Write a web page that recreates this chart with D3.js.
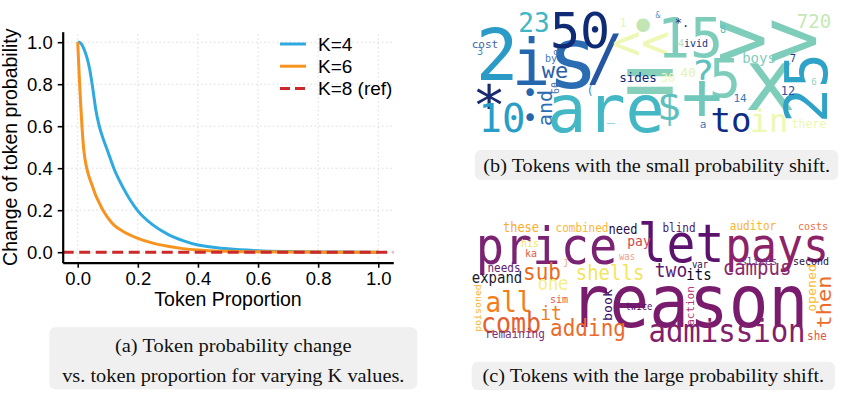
<!DOCTYPE html>
<html>
<head>
<meta charset="utf-8">
<script src="https://cdn.jsdelivr.net/npm/d3@7"></script>
<style>
  body { margin: 0; background: #fff; }
</style>
</head>
<body>
<svg width="847" height="399"></svg>
<script>
// ---- line chart data ----
var tokenProportion = [0, 0.005, 0.01, 0.015, 0.02, 0.03, 0.04, 0.05, 0.06, 0.07, 0.08, 0.1, 0.12, 0.15, 0.2, 0.25, 0.3, 0.35, 0.4, 0.45, 0.5, 0.6, 0.7, 0.8, 0.9, 1.0];
var probK4 = [1.0, 1.0, 0.995, 0.985, 0.97, 0.93, 0.87, 0.78, 0.68, 0.61, 0.56, 0.48, 0.40, 0.31, 0.197, 0.13, 0.085, 0.055, 0.034, 0.024, 0.016, 0.007, 0.003, 0.001, 0.0005, 0];
var probK6 = [1.0, 0.84, 0.70, 0.58, 0.49, 0.40, 0.35, 0.31, 0.27, 0.24, 0.21, 0.165, 0.13, 0.10, 0.066, 0.043, 0.028, 0.017, 0.010, 0.006, 0.004, 0.002, 0.001, 0.0005, 0, 0];
var refValue = 0;
var seriesNames = ["K=4", "K=6", "K=8 (ref)"];
var xTicks = [0, 0.2, 0.4, 0.6, 0.8, 1.0];
var yTicks = [0, 0.2, 0.4, 0.6, 0.8, 1.0];

// ---- word cloud (b): tokens with the small probability shift ----
var wordsSmall = ["2", "i", "s", "/", "50", "23", "*", "10", "•", "•", "•", "cost", "3", "by", "d", "we", "and", "60", "(", "are", "_", "$", "=", "<<", "1", "15", ">>", "720", "8", "*.", "&", "4", "ivid", "boys", "7", "?", "5", "x", "25", "6", "12", "14", "+", "to", "in", "there", "a", "sides", "30", "40"];
var weightSmall = [71, 64, 86, 62, 50, 26, 56, 39, 26, 26, 46, 11, 10, 10, 9, 22, 20, 10, 12, 65, 14, 40, 88, 48, 12, 55, 86, 19, 10, 12, 8, 10, 10, 14, 10, 38, 53, 85, 58, 9, 12, 11, 68, 34, 32, 11.5, 11, 12.5, 12, 13];

// ---- word cloud (c): tokens with the large probability shift ----
var wordsLarge = ["price", "let", "pays", "reason", "these", "combined", "need", "blind", "auditor", "costs", "his", "ka", "pay", "was", "sub", "j", "needs", "shells", "two", "var", "its", "campus", "slices", "second", "expand", "one", "all", "sim", "it", "book", "poisoned", "twice", "action", "opened", "then", "comb", "adding", "remaining", "admission", "she"];
var weightLarge = [47, 48, 43, 66, 12, 11, 12, 11, 11, 10, 10, 10, 13, 9, 21, 10, 11, 19, 18, 9, 14, 19, 10, 10, 14, 17, 26, 10, 18, 12, 9, 9, 10, 12, 20, 25, 21, 11, 29, 11];

var captionA = ["(a)  Token probability change", "vs. token proportion for varying K values."];
var captionB = "(b) Tokens with the small probability shift.";
var captionC = "(c) Tokens with the large probability shift.";

// ---- styles / layout (kept apart from the data) ----
var lineColors = ["#2eaae0", "#f7931e", "#cc2a2a"];

var colorsSmall = ["#2a9bc6", "#2567ad", "#2b6db2", "#2456a3", "#0f2b75", "#40b5c4", "#18296f", "#289dc7", "#2465ab", "#2465ab", "#c2e6b3", "#3b63ad", "#3c8fc1", "#4277b7", "#5072b2", "#2a5ea9", "#2d6eb2", "#4d74b4", "#3d8ec2", "#43b7c4", "#40b3c3", "#5dc0bc", "#86d0bb", "#eef8b4", "#e6f5b0", "#7ecdbb", "#7ecdbb", "#c6e8b4", "#5dbfc0", "#1d2f79", "#5b8fc7", "#bfe3b3", "#1c317f", "#80cebb", "#253494", "#5fc0bd", "#7ecdbb", "#7ecdbb", "#2fa3c7", "#8fd3bf", "#2d4f9e", "#3c7ab9", "#70c8bc", "#0d2c84", "#edf8b2", "#edf8b2", "#3c7ab9", "#0e2a7b", "#edf8b2", "#e3f4b1"];
// [x, y, rotation] in cloud units; y is the baseline (or centre when rotated)
var layoutSmall = [[27, 75], [61, 80], [103, 83], [135, 74], [110, 43], [64, 27], [19, 120], [32, 127], [60, 97], [60, 122], [173, 37.5], [15, 43], [10, 50], [81, 57], [86, 50], [85, 73], [76, 103, -90], [86, 83, -90], [120, 90], [136, 127], [141, 115], [199, 115], [180, 104], [171, 54], [153, 22], [220, 52], [298, 63], [344, 23], [253, 28], [212, 22], [188, 13], [211, 42], [226, 42], [289, 58], [323, 57], [233, 82], [255, 92], [300, 105], [340, 83, -90], [344, 80], [318, 90], [270, 97], [232, 115], [261, 127], [299, 127], [339, 123], [233, 123], [168, 77], [198, 77], [218, 72]];

var colorsLarge = ["#7b2373", "#5c136e", "#8c2369", "#791c6d", "#f9ab2c", "#fbb63a", "#250b47", "#4b1a6e", "#fbb32f", "#f1713f", "#f6e45e", "#e55c39", "#d5474a", "#f39f86", "#ea6a20", "#f6a67a", "#5d1e71", "#f3e461", "#5f196f", "#2b0e47", "#0c0a1c", "#8a2a6d", "#6b2b8a", "#1c0f3e", "#1b1a2e", "#f6ee8a", "#f57d15", "#dc5a4b", "#f07f1b", "#330a5f", "#f9b52c", "#5b1370", "#b8367a", "#fcbd35", "#ee6b2a", "#e65d2f", "#ec6a2b", "#76307f", "#82206c", "#df564a"];
var layoutLarge = [[76.5, 49], [211, 47], [307, 47], [219, 112], [51, 17], [112, 17], [153, 19], [209, 17], [283, 15], [343, 15], [60, 32], [61, 42], [169, 31], [157, 45], [72, 65], [96, 50], [34, 57], [140, 65], [201, 62], [230, 53], [229, 65], [287, 60], [289, 50], [341, 50], [27, 68], [83, 75], [39, 97], [89, 88], [81, 105], [138, 90, -90], [8, 93, -90], [169, 95], [221, 91, -90], [342, 73, -90], [355, 87, -90], [41, 118], [118, 121], [45, 123], [257, 127], [347, 125]];

var svg = d3.select("svg");
svg.append("rect").attr("width", 847).attr("height", 399).attr("fill", "#fff");

// ================= (a) line chart =================
var x = d3.scaleLinear().domain([-0.05, 1.05]).range([62.7, 393.3]);
var y = d3.scaleLinear().domain([-0.05, 1.05]).range([262.7, 31.7]);
var sansFont = "'Liberation Sans', Arial, sans-serif";

var grid = svg.append("g");
grid.selectAll(".gx").data(xTicks).enter().append("line")
  .attr("x1", function(d) { return x(d); })
  .attr("x2", function(d) { return x(d); })
  .attr("y1", y.range()[0])
  .attr("y2", y.range()[1]);
grid.selectAll(".gy").data(yTicks).enter().append("line")
  .attr("y1", function(d) { return y(d); })
  .attr("y2", function(d) { return y(d); })
  .attr("x1", x.range()[0])
  .attr("x2", x.range()[1]);
grid.selectAll("line")
  .attr("stroke", "#d8d8d8")
  .attr("stroke-width", 0.9)
  .attr("stroke-dasharray", "1.6,2.6");

var line = d3.line()
  .x(function(d) { return x(d[0]); })
  .y(function(d) { return y(d[1]); })
  .curve(d3.curveMonotoneX);

[probK4, probK6].forEach(function(vals, i) {
  svg.append("path")
    .datum(d3.zip(tokenProportion, vals))
    .attr("fill", "none")
    .attr("stroke", lineColors[i])
    .attr("stroke-width", 3)
    .attr("stroke-linejoin", "round")
    .attr("d", line);
});

svg.append("line")
  .attr("x1", x.range()[0])
  .attr("x2", x.range()[1])
  .attr("y1", y(refValue))
  .attr("y2", y(refValue))
  .attr("stroke", lineColors[2])
  .attr("stroke-width", 3)
  .attr("stroke-dasharray", "11,5.5");

var xAxis = svg.append("g")
  .attr("transform", "translate(0," + y.range()[0] + ")")
  .call(d3.axisBottom(x).tickValues(xTicks).tickFormat(d3.format(".1f")).tickSize(5).tickSizeOuter(0).tickPadding(4));
var yAxis = svg.append("g")
  .attr("transform", "translate(" + x.range()[0] + ",0)")
  .call(d3.axisLeft(y).tickValues(yTicks).tickFormat(d3.format(".1f")).tickSize(5).tickSizeOuter(0).tickPadding(5));
[xAxis, yAxis].forEach(function(ax) {
  ax.attr("font-family", sansFont).attr("font-size", 18.5);
  ax.select(".domain").attr("stroke", "#000").attr("stroke-width", 2.2);
  ax.selectAll(".tick line").attr("stroke", "#000").attr("stroke-width", 1.6);
  ax.selectAll(".tick text").attr("fill", "#000");
});

svg.append("text")
  .attr("x", (x.range()[0] + x.range()[1]) / 2)
  .attr("y", 306)
  .attr("text-anchor", "middle")
  .attr("font-family", sansFont)
  .attr("font-size", 19.5)
  .text("Token Proportion");

svg.append("text")
  .attr("transform", "translate(17," + (y.range()[0] + y.range()[1]) / 2 + ") rotate(-90)")
  .attr("text-anchor", "middle")
  .attr("font-family", sansFont)
  .attr("font-size", 19.5)
  .text("Change of token probability");

// legend
var legend = svg.append("g").attr("transform", "translate(280,44)");
seriesNames.forEach(function(name, i) {
  var row = legend.append("g").attr("transform", "translate(0," + (i * 22.2) + ")");
  row.append("line")
    .attr("x1", 0).attr("x2", 26).attr("y1", 0).attr("y2", 0)
    .attr("stroke", lineColors[i])
    .attr("stroke-width", 3)
    .attr("stroke-dasharray", i == 2 ? "10,5" : null);
  row.append("text")
    .attr("x", 38).attr("y", 6.5)
    .attr("font-family", sansFont)
    .attr("font-size", 19)
    .text(name);
});

// ================= word clouds =================
function drawCloud(box, words, weights, colors, layout, stretch) {
  var cx = d3.scaleLinear().domain([0, box.w]).range([box.x, box.x + box.w]);
  var cy = d3.scaleLinear().domain([0, box.h]).range([box.y, box.y + box.h]);
  var g = svg.append("g")
    .attr("font-family", "'DejaVu Sans Mono', monospace")
    .attr("text-anchor", "middle");
  words.forEach(function(w, i) {
    var L = layout[i], rot = L[2] || 0, size = weights[i];
    var t = g.append("text")
      .attr("font-size", size)
      .attr("fill", colors[i])
      .text(w);
    if (rot) {
      t.attr("y", 0.3 * size)
        .attr("transform", "translate(" + cx(L[0]) + "," + cy(L[1]) + ") scale(1," + stretch + ") rotate(" + rot + ")");
    } else {
      t.attr("transform", "translate(" + cx(L[0]) + "," + cy(L[1]) + ") scale(1," + stretch + ")");
    }
  });
}

drawCloud({x: 470, y: 5, w: 368, h: 135}, wordsSmall, weightSmall, colorsSmall, layoutSmall, 1.0);
drawCloud({x: 470, y: 215, w: 368, h: 140}, wordsLarge, weightLarge, colorsLarge, layoutLarge, 1.1);

// ================= captions =================
var serifFont = "'Liberation Serif', 'Times New Roman', serif";
function caption(r, lines, baselines, widths) {
  svg.append("rect")
    .attr("x", r[0]).attr("y", r[1]).attr("width", r[2]).attr("height", r[3])
    .attr("rx", 6).attr("fill", "#f0f0f0");
  lines.forEach(function(s, i) {
    svg.append("text")
      .attr("x", r[0] + r[2] / 2)
      .attr("y", baselines[i])
      .attr("text-anchor", "middle")
      .attr("font-family", serifFont)
      .attr("font-size", 18)
      .attr("textLength", widths[i])
      .attr("lengthAdjust", "spacingAndGlyphs")
      .attr("fill", "#111")
      .text(s);
  });
}
caption([49.3, 327.3, 368, 62], captionA, [351.5, 381.5], [236.7, 342.3]);
caption([475, 150, 363.3, 30], [captionB], [171.5], [346.7]);
caption([471.7, 361.7, 363.3, 28.3], [captionC], [382], [341.7]);
</script>
</body>
</html>
